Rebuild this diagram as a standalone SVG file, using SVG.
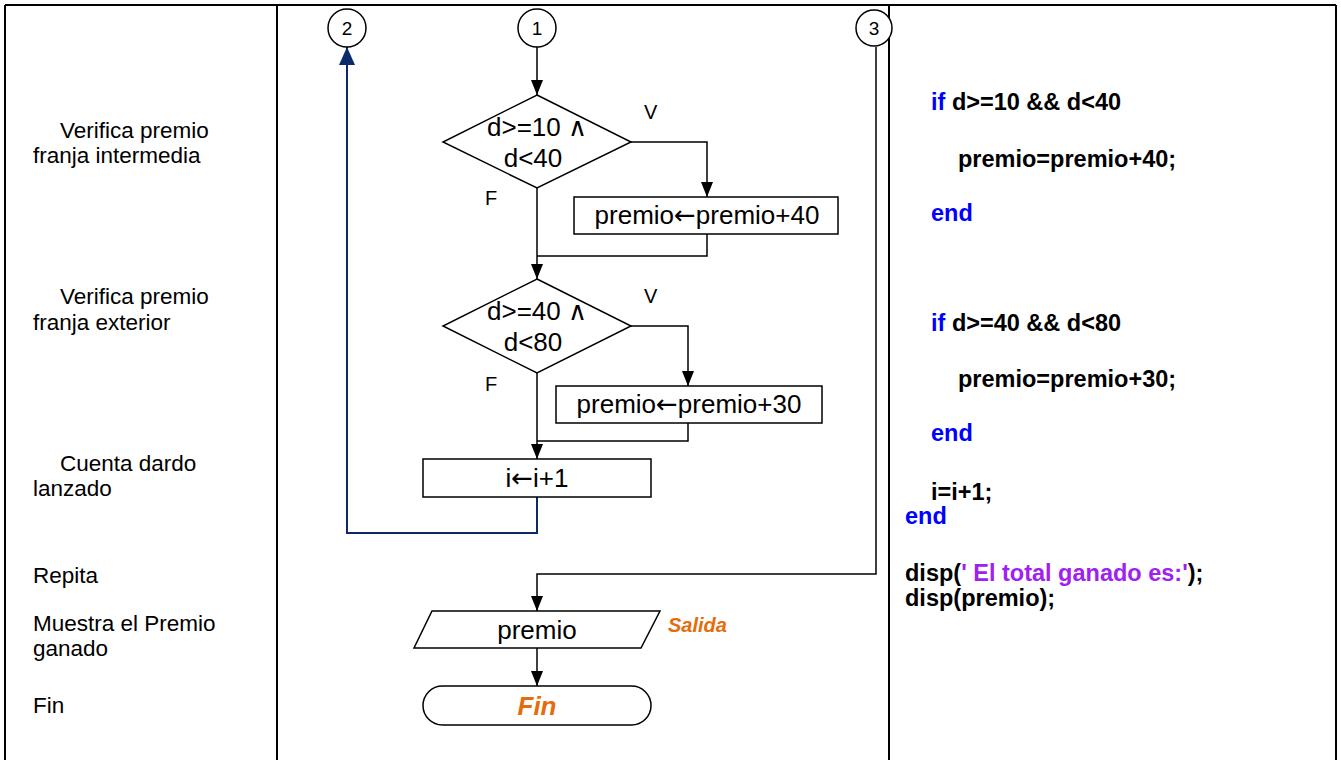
<svg xmlns="http://www.w3.org/2000/svg" width="1341" height="760" viewBox="0 0 1341 760">
<style>
text{font-family:"Liberation Sans",Arial,sans-serif;fill:#000}
.lab{font-size:22.5px}
.fc{font-size:26px;text-anchor:middle}
.arr{font-family:"DejaVu Sans",sans-serif}
.vf{font-size:20px}
.num{font-size:19px;text-anchor:middle}
.code{font-size:23.5px;font-weight:bold}
.kw{fill:#0000FF}
.str{fill:#A020F0}
.or{fill:#E46C0A;font-weight:bold;font-style:italic}
.shape{fill:#fff;stroke:#000;stroke-width:1.5}
.grid{stroke:#000;stroke-width:2;fill:none}
.conn{fill:none;stroke:#000;stroke-width:1.5}
.back{fill:none;stroke:#0B2A6B;stroke-width:2}
</style>
<defs>
<marker id="ah" viewBox="0 0 15 12" refX="15" refY="6" markerWidth="15" markerHeight="12" markerUnits="userSpaceOnUse" orient="auto"><path d="M0,0 L15,6 L0,12 z" fill="#000"/></marker>
<marker id="ahb" viewBox="0 0 18 16" refX="18" refY="8" markerWidth="18" markerHeight="16" markerUnits="userSpaceOnUse" orient="auto"><path d="M0,0 L18,8 L0,16 z" fill="#0B2A6B"/></marker>
</defs>
<rect width="1341" height="760" fill="#fff"/>
<g id="table">
<path class="grid" d="M5,5 H1336 M5,5 V760 M277,5 V760 M889,5 V760 M1336,5 V760"/>
</g>
<g id="labels">
<text class="lab" x="60" y="138">Verifica premio</text>
<text class="lab" x="33" y="163">franja intermedia</text>
<text class="lab" x="60" y="304">Verifica premio</text>
<text class="lab" x="33" y="330">franja exterior</text>
<text class="lab" x="60" y="471">Cuenta dardo</text>
<text class="lab" x="33" y="496">lanzado</text>
<text class="lab" x="33" y="583">Repita</text>
<text class="lab" x="33" y="631">Muestra el Premio</text>
<text class="lab" x="33" y="656">ganado</text>
<text class="lab" x="33" y="713">Fin</text>
</g>
<g id="connectors">
<path class="conn" d="M537,47 V95" marker-end="url(#ah)"/>
<path class="conn" d="M631,142 H707 V197" marker-end="url(#ah)"/>
<path class="conn" d="M707,234 V256 H537"/>
<path class="conn" d="M537,188 V279" marker-end="url(#ah)"/>
<path class="conn" d="M631,326 H688 V386" marker-end="url(#ah)"/>
<path class="conn" d="M688,423 V441 H537"/>
<path class="conn" d="M537,373 V459" marker-end="url(#ah)"/>
<path class="conn" d="M876,47 V574 H537 V611" marker-end="url(#ah)"/>
<path class="conn" d="M537,648 V686" marker-end="url(#ah)"/>
<path class="back" d="M537,497 V533 H347 V47" marker-end="url(#ahb)"/>
<text class="vf" x="644" y="119">V</text>
<text class="vf" x="485" y="205">F</text>
<text class="vf" x="644" y="303">V</text>
<text class="vf" x="485" y="391">F</text>
</g>
<g id="c2"><circle class="shape" cx="347" cy="28" r="19"/><text class="num" x="347" y="35">2</text></g>
<g id="c1"><circle class="shape" cx="537" cy="28" r="19"/><text class="num" x="537" y="35">1</text></g>
<g id="c3"><circle class="shape" cx="874" cy="28" r="18"/><text class="num" x="874" y="35">3</text></g>
<g id="d1">
<polygon class="shape" points="537,95 631,142 537,188 443,142"/>
<text class="fc" x="537" y="136">d&gt;=10 ∧</text>
<text class="fc" x="533" y="167">d&lt;40</text>
</g>
<g id="b1"><rect class="shape" x="574" y="197" width="264" height="37"/><text class="fc" x="707" y="224">premio<tspan class="arr">←</tspan>premio+40</text></g>
<g id="d2">
<polygon class="shape" points="537,279 631,326 537,373 443,326"/>
<text class="fc" x="537" y="320">d&gt;=40 ∧</text>
<text class="fc" x="533" y="351">d&lt;80</text>
</g>
<g id="b2"><rect class="shape" x="556" y="386" width="266" height="37"/><text class="fc" x="689" y="413">premio<tspan class="arr">←</tspan>premio+30</text></g>
<g id="b3"><rect class="shape" x="423" y="459" width="228" height="38"/><text class="fc" x="537" y="487">i<tspan class="arr">←</tspan>i+1</text></g>
<g id="out">
<polygon class="shape" points="432,611 660,611 641,648 414,648"/>
<text class="fc" x="537" y="639">premio</text>
<text class="or" x="668" y="632" style="font-size:20px">Salida</text>
</g>
<g id="fin">
<rect class="shape" x="423" y="686" width="228" height="39" rx="19.5"/>
<text class="fc or" x="537" y="715">Fin</text>
</g>
<g id="code">
<text class="code" x="931" y="110"><tspan class="kw">if</tspan> d&gt;=10 &amp;&amp; d&lt;40</text>
<text class="code" x="958" y="167">premio=premio+40;</text>
<text class="code kw" x="931" y="221">end</text>
<text class="code" x="931" y="331"><tspan class="kw">if</tspan> d&gt;=40 &amp;&amp; d&lt;80</text>
<text class="code" x="958" y="387">premio=premio+30;</text>
<text class="code kw" x="931" y="441">end</text>
<text class="code" x="931" y="500">i=i+1;</text>
<text class="code kw" x="905" y="524">end</text>
<text class="code" x="905" y="581">disp(<tspan class="str">' El total ganado es:'</tspan>);</text>
<text class="code" x="905" y="606">disp(premio);</text>
</g>
</svg>
